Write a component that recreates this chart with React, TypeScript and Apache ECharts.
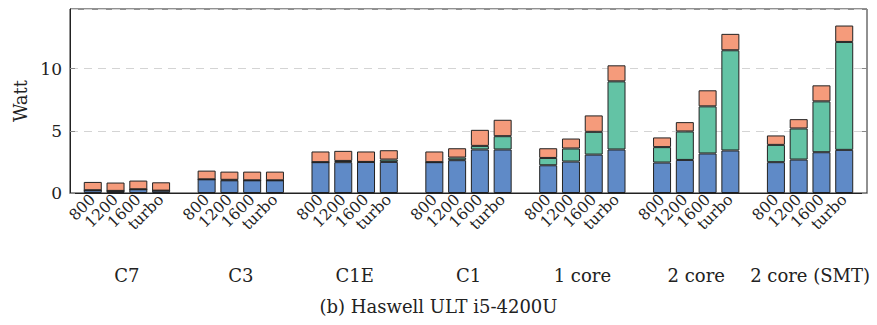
import React, { useEffect, useRef } from "react";
import * as echarts from "echarts";

const groups = ["C7", "C3", "C1E", "C1", "1 core", "2 core", "2 core (SMT)"];
const freqs = ["800", "1200", "1600", "turbo"];

// per group: [800, 1200, 1600, turbo]
const blueVals = [
  [0.22, 0.17, 0.3, 0.19],
  [1.1, 1.02, 1.02, 1.02],
  [2.48, 2.48, 2.5, 2.5],
  [2.48, 2.64, 3.5, 3.5],
  [2.23, 2.53, 3.09, 3.5],
  [2.45, 2.66, 3.18, 3.42],
  [2.48, 2.69, 3.28, 3.47],
];
const greenVals = [
  [0.0, 0.0, 0.0, 0.0],
  [0.0, 0.04, 0.0, 0.0],
  [0.0, 0.1, 0.0, 0.19],
  [0.0, 0.21, 0.29, 1.07],
  [0.59, 1.05, 1.83, 5.48],
  [1.24, 2.29, 3.79, 8.06],
  [1.39, 2.5, 4.09, 8.68],
];
const orangeVals = [
  [0.67, 0.67, 0.7, 0.67],
  [0.7, 0.66, 0.7, 0.7],
  [0.86, 0.81, 0.84, 0.75],
  [0.86, 0.75, 1.29, 1.32],
  [0.78, 0.8, 1.32, 1.29],
  [0.78, 0.75, 1.29, 1.32],
  [0.76, 0.75, 1.29, 1.32],
];

const yTicks = [0, 5, 10];

// category slots: leading empty slot, then per group 4 bars + 1 gap slot
const NSLOT = 1 + groups.length * 5;

function slotLabels(): string[] {
  const out: string[] = new Array(NSLOT).fill("");
  groups.forEach((_, gi) => freqs.forEach((f, bi) => (out[1 + gi * 5 + bi] = f)));
  return out;
}

function toData(vals: number[][]): (number | null)[] {
  const out: (number | null)[] = new Array(NSLOT).fill(null);
  vals.forEach((g, gi) => g.forEach((v, bi) => (out[1 + gi * 5 + bi] = v)));
  return out;
}

export default function App() {
  const ref = useRef<HTMLDivElement>(null);
  useEffect(() => {
    if (!ref.current) return;
    const chart = echarts.init(ref.current, undefined, { renderer: "svg" });
    const font = "DejaVu Serif";
    const barStyle = (color: string) => ({
      color,
      borderColor: "#222",
      borderWidth: 1,
    });
    const cats = slotLabels();
    chart.setOption({
      animation: false,
      textStyle: { fontFamily: font, color: "#222" },
      title: {
        text: "(b) Haswell ULT i5-4200U",
        left: "center",
        top: 292,
        textStyle: { fontFamily: font, fontSize: 18, fontWeight: "normal", color: "#222" },
      },
      grid: {
        left: 70,
        right: 10,
        top: 9,
        bottom: 132,
        show: true,
        borderColor: "#222",
        borderWidth: 1,
        backgroundColor: "transparent",
      },
      xAxis: [
        {
          type: "category",
          data: cats,
          boundaryGap: false,
          splitLine: { show: false },
          axisLine: { show: true, onZero: false, lineStyle: { color: "#222", width: 1 } },
          axisTick: { show: false },
          axisLabel: {
            rotate: 45,
            margin: 4,
            interval: 0,
            fontFamily: font,
            fontSize: 15.5,
            color: "#222",
          },
        },
        {
          type: "category",
          data: groups,
          position: "bottom",
          offset: 65,
          boundaryGap: true,
          axisLine: { show: false },
          axisTick: { show: false },
          splitLine: { show: false },
          axisLabel: { fontFamily: font, fontSize: 18, color: "#222", interval: 0 },
        },
      ],
      yAxis: [
        {
          type: "value",
          min: 0,
          max: 14.8,
          interval: 5,
          name: "Watt",
          nameLocation: "middle",
          nameGap: 41,
          nameTextStyle: { fontFamily: font, fontSize: 18, color: "#222" },
          axisLine: { show: true, onZero: false, lineStyle: { color: "#222" } },
          axisTick: { show: true, inside: true, length: 5, lineStyle: { color: "#888" } },
          axisLabel: {
            fontFamily: font,
            fontSize: 17,
            color: "#222",
            margin: 8,
            showMaxLabel: false,
            formatter: (v: number) => (yTicks.includes(v) ? String(v) : ""),
          },
          splitLine: { show: true, lineStyle: { color: "#d4d4d4", type: [8, 6], width: 1.2 } },
        },
        {
          type: "value",
          min: 0,
          max: 14.8,
          interval: 5,
          position: "right",
          axisLine: { show: false },
          axisTick: { show: true, inside: true, length: 5, lineStyle: { color: "#888" } },
          axisLabel: { show: false },
          splitLine: { show: false },
        },
      ],
      series: [
        { type: "bar", stack: "w", barWidth: 18, data: toData(blueVals), itemStyle: barStyle("#5f8ac7") },
        { type: "bar", stack: "w", barWidth: 18, data: toData(greenVals), itemStyle: barStyle("#63c3a5") },
        { type: "bar", stack: "w", barWidth: 18, data: toData(orangeVals), itemStyle: barStyle("#f59b7b") },
      ],
    });
    return () => chart.dispose();
  }, []);
  return <div ref={ref} style={{ width: 877, height: 325, position: "absolute", left: 0, top: 0 }} />;
}
